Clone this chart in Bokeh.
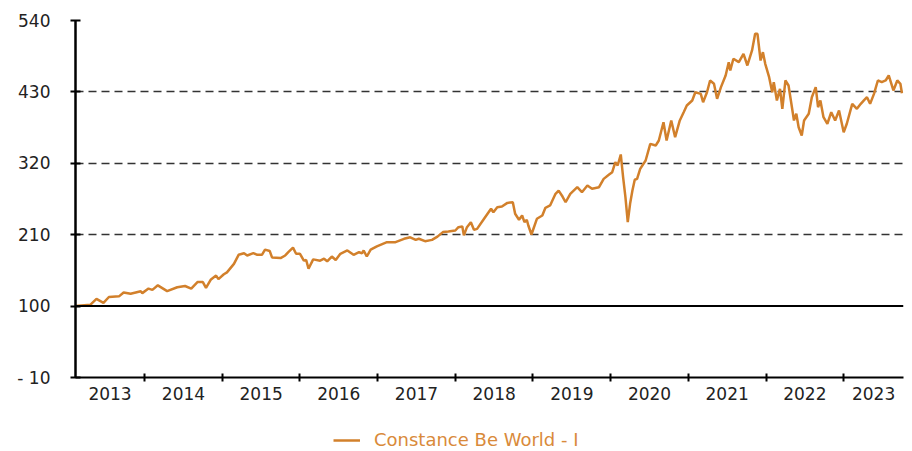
from bokeh.plotting import figure
from bokeh.layouts import column
from bokeh.models import (Range1d, FixedTicker, CustomJSTickFormatter, Span,
                          Legend, LegendItem, ColumnDataSource)
from bokeh.embed import file_html
from bokeh.resources import INLINE

# ---- data (decimal year, index value) ----
t_year = [
    2013.11, 2013.30, 2013.38, 2013.47, 2013.54, 2013.67, 2013.73, 2013.82, 2013.95, 2013.97,
    2014.05, 2014.10, 2014.17, 2014.29, 2014.42, 2014.52, 2014.60, 2014.68, 2014.75, 2014.79,
    2014.85, 2014.92, 2014.95, 2015.02, 2015.06, 2015.15, 2015.21, 2015.28, 2015.32, 2015.40,
    2015.45, 2015.51, 2015.55, 2015.61, 2015.64, 2015.75, 2015.81, 2015.85, 2015.91, 2015.95,
    2016.00, 2016.05, 2016.08, 2016.11, 2016.17, 2016.26, 2016.31, 2016.35, 2016.41, 2016.46,
    2016.52, 2016.61, 2016.69, 2016.76, 2016.80, 2016.82, 2016.86, 2016.91, 2016.99, 2017.12,
    2017.23, 2017.34, 2017.42, 2017.49, 2017.53, 2017.61, 2017.70, 2017.77, 2017.84, 2017.91,
    2018.00, 2018.04, 2018.09, 2018.11, 2018.15, 2018.20, 2018.24, 2018.28, 2018.37, 2018.46,
    2018.49, 2018.54, 2018.60, 2018.67, 2018.74, 2018.77, 2018.82, 2018.86, 2018.89, 2018.92,
    2018.94, 2018.98, 2019.05, 2019.12, 2019.16, 2019.22, 2019.29, 2019.33, 2019.38, 2019.42,
    2019.48, 2019.57, 2019.63, 2019.70, 2019.76, 2019.85, 2019.91, 2019.98, 2020.02, 2020.06,
    2020.09, 2020.13, 2020.16, 2020.19, 2020.22, 2020.25, 2020.28, 2020.31, 2020.34, 2020.38,
    2020.45, 2020.51, 2020.58, 2020.62, 2020.68, 2020.72, 2020.78, 2020.83, 2020.89, 2020.94,
    2020.98, 2021.05, 2021.09, 2021.16, 2021.19, 2021.24, 2021.28, 2021.33, 2021.37, 2021.42,
    2021.48, 2021.52, 2021.54, 2021.58, 2021.65, 2021.71, 2021.76, 2021.82, 2021.86, 2021.89,
    2021.93, 2021.96, 2021.99, 2022.04, 2022.08, 2022.10, 2022.14, 2022.18, 2022.21, 2022.25,
    2022.29, 2022.32, 2022.36, 2022.39, 2022.42, 2022.46, 2022.49, 2022.55, 2022.59, 2022.64,
    2022.67, 2022.70, 2022.74, 2022.79, 2022.84, 2022.89, 2022.94, 2023.00, 2023.04, 2023.11,
    2023.17, 2023.22, 2023.26, 2023.30, 2023.34, 2023.39, 2023.44, 2023.49, 2023.54, 2023.58,
    2023.64, 2023.69, 2023.73, 2023.75,
]
constance_be_world_i = [
    100, 102, 111, 105, 114, 115, 121, 119, 123, 120,
    127, 125, 132, 123, 129, 131, 127, 137, 137, 128,
    140.5, 147, 141.5, 149, 152, 165, 179, 181.5, 178, 181.5,
    179, 179, 187, 185, 175, 174, 178, 183, 190, 180.6,
    180.6, 170, 171, 157.5, 172, 170, 173, 169, 176.4, 171,
    180.6, 185.7, 179, 183, 181.5, 185.7, 176.4, 187, 192, 198.5,
    198.5, 203.7, 206, 202, 203.7, 200, 202, 207, 214, 215,
    216.5, 221.6, 222.6, 209, 221.6, 229.3, 217.5, 219, 234.5, 250,
    244.7, 252.4, 253.4, 259, 260, 242.2, 233, 239.6, 229.3, 233,
    224.2, 210.3, 234.5, 239.6, 251.5, 255, 273, 278, 268.8, 260,
    273, 283.2, 275.5, 285.8, 280.7, 283.2, 296, 302.7, 306.3, 321.7,
    316.6, 333.6, 298.6, 267.8, 229.3, 257.6, 278, 294.6, 296, 311.5,
    324.3, 350, 347.4, 355.1, 383.3, 355.1, 386, 360.2, 386, 398.7,
    409, 416.8, 429.5, 427, 414, 429.5, 447.6, 442.5, 419.4, 437.3,
    455.3, 475.8, 463, 481, 475.8, 488.7, 470.7, 493.8, 519.5, 519.5,
    478.4, 491.2, 473.3, 452.7, 429.5, 445, 416.8, 434.8, 404, 447.6,
    439.9, 416.8, 386, 396.3, 375.6, 362.8, 386, 396.3, 421.8, 437.3,
    406.4, 416.8, 391, 380.9, 398.7, 386, 401.3, 367.9, 380.9, 411.6,
    404, 411.6, 416.8, 421.8, 411.6, 427, 447.6, 445, 447.6, 455.3,
    432.2, 447.6, 442.5, 428,
]
series_name = "Constance Be World - I"

y_ticks = [-10, 100, 210, 320, 430, 540]
grid_levels = [210, 320, 430, 540]
baseline = 100
year_boundaries = [2014, 2015, 2016, 2017, 2018, 2019, 2020, 2021, 2022, 2023]
year_label_pos = [2013.555, 2014.5, 2015.5, 2016.5, 2017.5, 2018.5, 2019.5,
                  2020.5, 2021.5, 2022.5, 2023.385]
x_start, x_end = 2013.11, 2023.77

LINE_COLOR = "#D2802B"
FONT = "DejaVu Sans"

src = ColumnDataSource(dict(t=t_year, v=constance_be_world_i))

p = figure(frame_width=828, frame_height=357, output_backend="svg",
           toolbar_location=None, min_border_left=75, min_border_top=20,
           min_border_right=5, min_border_bottom=34,
           x_range=Range1d(x_start, x_end), y_range=Range1d(-10, 540))
p.outline_line_color = None
p.background_fill_color = "white"
p.border_fill_color = "white"

r = p.line("t", "v", source=src, line_color=LINE_COLOR, line_width=2.5)

# y axis
ya = p.yaxis[0]
ya.ticker = FixedTicker(ticks=y_ticks)
ya.major_label_overrides = {-10: "- 10"}
ya.axis_line_width = 2.5
ya.axis_line_color = "black"
ya.major_tick_in = 5
ya.major_tick_out = 5
ya.major_tick_line_width = 2
ya.minor_tick_line_color = None
ya.major_label_standoff = 20
ya.major_label_text_font = FONT
ya.major_label_text_font_size = "17px"
ya.major_label_text_color = "#222222"

# x axis
xa = p.xaxis[0]
xa.ticker = FixedTicker(ticks=year_label_pos, minor_ticks=year_boundaries)
xa.formatter = CustomJSTickFormatter(code="return Math.floor(tick).toString();")
xa.major_tick_in = 0
xa.major_tick_out = 0
xa.minor_tick_in = 4
xa.minor_tick_out = 4
xa.minor_tick_line_width = 2
xa.minor_tick_line_color = "black"
xa.axis_line_width = 2
xa.axis_line_color = "black"
xa.major_label_standoff = 5
xa.major_label_text_font = FONT
xa.major_label_text_font_size = "17px"
xa.major_label_text_color = "#222222"

# grid
p.xgrid.visible = False
p.ygrid.ticker = FixedTicker(ticks=grid_levels)
p.ygrid.grid_line_color = "#333333"
p.ygrid.grid_line_width = 1.5
p.ygrid.grid_line_dash = "8 5"

p.add_layout(Span(location=baseline, dimension="width", line_color="black", line_width=2))

# legend strip (separate small figure under the chart)
leg = figure(width=908, height=40, output_backend="svg", toolbar_location=None,
             x_axis_location=None, y_axis_location=None, min_border=0,
             x_range=Range1d(0, 1), y_range=Range1d(0, 1))
leg.outline_line_color = None
leg.xgrid.visible = False
leg.ygrid.visible = False
r2 = leg.line("t", "v", source=src, line_color=LINE_COLOR, line_width=2.5)

legend = Legend(items=[LegendItem(label=series_name, renderers=[r2])],
                location=(258, 1), orientation="horizontal",
                border_line_color=None, background_fill_alpha=0,
                padding=0, margin=0, spacing=0,
                glyph_width=27, glyph_height=20, label_height=20,
                label_standoff=14,
                label_text_font=FONT, label_text_font_size="18px",
                label_text_color="#D98A3A")
leg.add_layout(legend, "center")

open("out.html", "w").write(file_html(column(p, leg, spacing=0), INLINE))
